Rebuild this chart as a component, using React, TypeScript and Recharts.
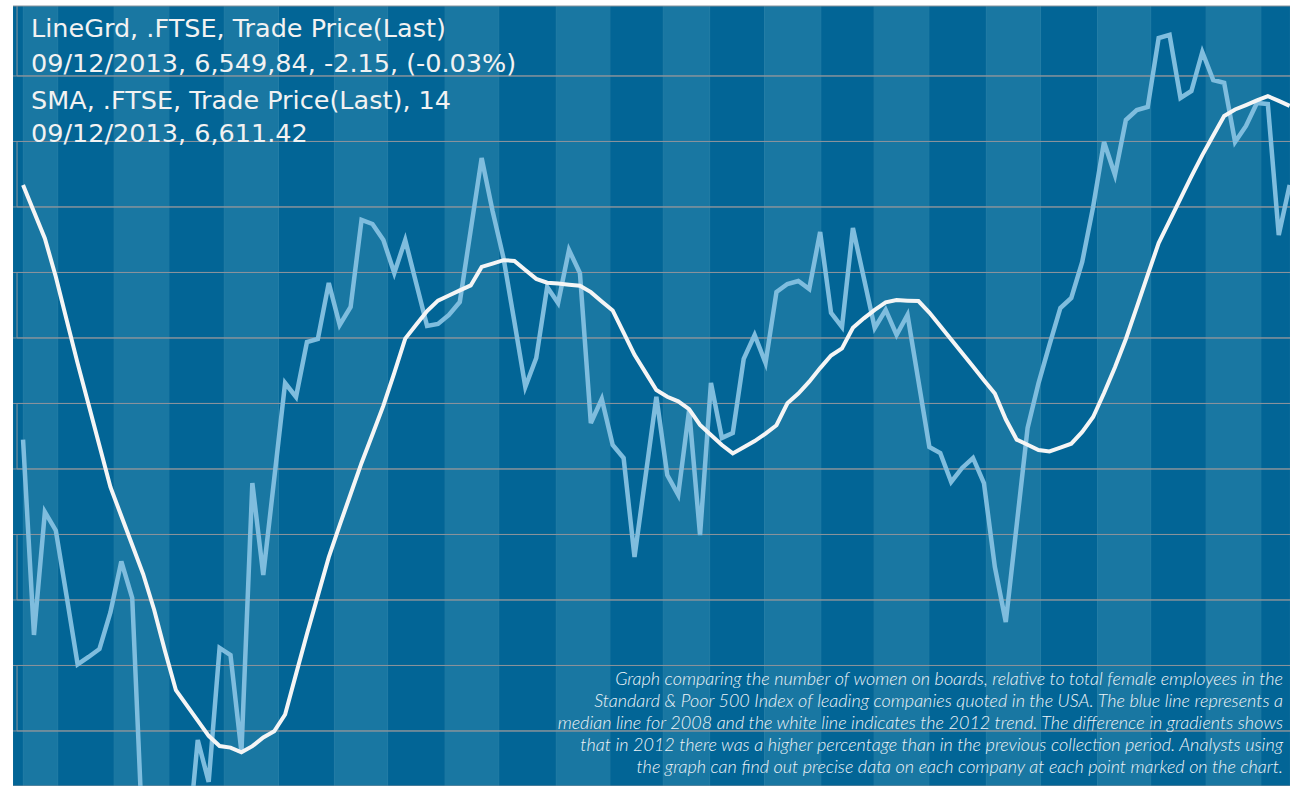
import { LineChart, Line, XAxis, YAxis, CartesianGrid, ReferenceArea } from "recharts";

// FTSE trade price (last), one value per trading day
const price = [
	6372.4, 6223.3, 6317.2, 6303.1, 6252.3, 6200.8, 6206.5, 6212.6, 6240.5, 6279.4,
	6251.5, 6059.2, 6036.3, 6021.0, 6036.3, 6054.6, 6143.1, 6111.1, 6213.4, 6208.0,
	6134.0, 6339.3, 6269.1, 6342.4, 6415.6, 6405.0, 6446.9, 6449.2, 6492.0, 6459.9,
	6473.7, 6540.1, 6537.0, 6524.8, 6499.6, 6524.8, 6492.0, 6459.2, 6460.7, 6467.6,
	6477.5, 6532.4, 6587.4, 6546.9, 6511.1, 6462.2, 6412.6, 6434.7, 6488.9, 6476.7,
	6517.2, 6499.6, 6385.1, 6403.4, 6368.3, 6358.4, 6282.8, 6343.9, 6405.0, 6345.4,
	6330.2, 6395.0, 6299.6, 6415.6, 6373.7, 6377.5, 6434.0, 6452.3, 6430.9, 6485.1,
	6491.2, 6493.5, 6487.4, 6530.9, 6469.1, 6458.4, 6534.0, 6495.8, 6457.6, 6471.4,
	6452.3, 6467.6, 6417.2, 6366.8, 6362.2, 6340.1, 6350.8, 6358.4, 6339.3, 6275.2,
	6233.2, 6307.3, 6381.3, 6415.6, 6444.7, 6472.9, 6480.5, 6508.0, 6550.0, 6599.6,
	6574.4, 6616.4, 6624.0, 6626.3, 6679.0, 6681.3, 6633.2, 6638.5, 6668.3, 6646.9,
	6644.7, 6599.6, 6611.8, 6629.4, 6628.6, 6528.6, 6566.8,
];

// 14 day simple moving average
const sma = [
	6566.8, 6546.3, 6526.0, 6496.7, 6463.6, 6430.6, 6399.2, 6367.7, 6336.3, 6314.1,
	6292.0, 6269.8, 6242.7, 6211.1, 6181.1, 6169.5, 6157.9, 6146.3, 6138.5, 6137.3,
	6133.7, 6138.4, 6145.1, 6149.8, 6162.6, 6193.4, 6224.0, 6253.3, 6282.7, 6307.1,
	6330.9, 6354.6, 6376.3, 6398.3, 6423.4, 6449.5, 6460.0, 6470.6, 6478.5, 6482.4,
	6486.3, 6490.1, 6504.2, 6506.8, 6509.4, 6508.8, 6501.9, 6495.1, 6492.2, 6491.5,
	6490.7, 6489.9, 6485.0, 6477.9, 6471.0, 6454.1, 6437.1, 6423.7, 6410.3, 6405.1,
	6401.6, 6395.7, 6383.6, 6375.9, 6368.3, 6361.9, 6366.6, 6371.3, 6377.0, 6383.4,
	6400.1, 6407.6, 6416.6, 6427.0, 6436.6, 6442.0, 6457.8, 6465.0, 6471.5, 6477.2,
	6478.9, 6478.5, 6478.2, 6469.4, 6459.1, 6448.8, 6438.5, 6428.2, 6417.8, 6407.6,
	6387.9, 6372.4, 6368.5, 6364.5, 6363.4, 6366.3, 6369.3, 6378.3, 6389.7, 6408.0,
	6427.6, 6449.2, 6473.6, 6498.2, 6522.4, 6539.3, 6556.3, 6573.3, 6589.6, 6604.6,
	6619.5, 6624.4, 6627.8, 6631.3, 6634.6, 6631.0, 6627.2,
];

// where each trading week starts (day index), used for the striped background
const weekBreaks = [
	0, 3.2, 8.3, 13.4, 18.4, 23.4, 28.5, 33.4, 38.6, 43.6, 48.8, 53.8, 58.6, 62.9,
	67.9, 73.1, 77.9, 83.0, 88.2, 93.2, 98.4, 103.3, 108.3, 113.4,
];

const yTicks = [6150, 6200, 6250, 6300, 6350, 6400, 6450, 6500, 6550, 6600, 6650];

// price bands that get an outline box
const bands = [
	[6650, 6720],
	[6550, 6600],
	[6450, 6500],
	[6350, 6400],
	[6250, 6300],
	[6150, 6200],
];

const header = [
	"LineGrd, .FTSE, Trade Price(Last)",
	"09/12/2013, 6,549,84, -2.15, (-0.03%)",
	"SMA, .FTSE, Trade Price(Last), 14",
	"09/12/2013, 6,611.42",
];

const caption = [
	"Graph comparing the number of women on boards, relative to total female employees in the",
	"Standard & Poor 500 Index of leading companies quoted in the USA. The blue line represents a",
	"median line for 2008 and the white line indicates the 2012 trend. The difference in gradients shows",
	"that in 2012 there was a higher percentage than in the previous collection period. Analysts using",
	"the graph can find out precise data on each company at each point marked on the chart.",
];

const W = 1290;
const H = 786;
const X_MIN = -0.92;
const X_MAX = 116.03;
const DARK = "#026596";
const LIGHT = "#1977a2";
const GRID = "#88939c";

const headerBaselines = [37, 72, 109, 142];

export default function App() {
	const data = price.map((p, i) => ({ day: i, price: p, sma: sma[i] }));

	return (
		<div
			style={{
				position: "absolute",
				left: 0,
				top: 0,
				width: W,
				height: H,
				background: "#fff",
				overflow: "hidden",
			}}
		>
			<LineChart
				width={W}
				height={H}
				data={data}
				margin={{ top: 6, right: 0, bottom: 0, left: 13 }}
			>
				<XAxis
					type="number"
					dataKey="day"
					domain={[X_MIN, X_MAX]}
					ticks={[X_MIN, ...weekBreaks]}
					allowDataOverflow
					hide
				/>
				<YAxis
					type="number"
					domain={[6108, 6703.4]}
					ticks={yTicks}
					allowDataOverflow
					hide
				/>
				<CartesianGrid
					horizontal={false}
					verticalFill={[DARK, LIGHT]}
					stroke="rgba(255,255,255,0.05)"
				/>
				<CartesianGrid vertical={false} stroke={GRID} />
				{bands.map(([lo, hi]) => (
					<ReferenceArea
						key={lo}
						x1={-0.55}
						x2={120}
						y1={lo}
						y2={hi}
						ifOverflow="hidden"
						fill="none"
						stroke={GRID}
					/>
				))}
				<Line
					type="linear"
					dataKey="price"
					stroke="#7fbdde"
					strokeWidth={4.5}
					dot={false}
					activeDot={false}
					isAnimationActive={false}
				/>
				<Line
					type="linear"
					dataKey="sma"
					stroke="#f5f5f5"
					strokeWidth={4}
					dot={false}
					activeDot={false}
					isAnimationActive={false}
				/>
			</LineChart>
			<svg
				width={W}
				height={H}
				style={{ position: "absolute", left: 0, top: 0, pointerEvents: "none" }}
			>
				{header.map((line, i) => (
					<text
						key={i}
						x={31}
						y={headerBaselines[i]}
						fill="#f2f2f2"
						fontSize={25.5}
						fontFamily="'DejaVu Sans', sans-serif"
					>
						{line}
					</text>
				))}
				{caption.map((line, i) => (
					<text
						key={i}
						x={1283}
						y={685 + i * 22}
						textAnchor="end"
						fill="#eef3f7"
						fontSize={18}
						fontStyle="italic"
						fontWeight={300}
						fontFamily="Lato, 'Open Sans', sans-serif"
					>
						{line}
					</text>
				))}
			</svg>
		</div>
	);
}
